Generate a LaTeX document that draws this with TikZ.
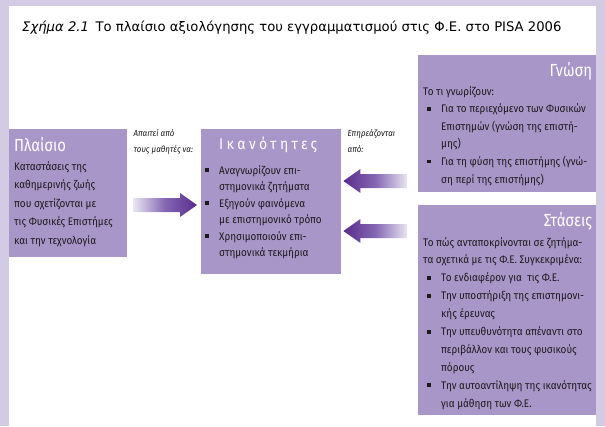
\documentclass[tikz,border=0pt]{standalone}
\usepackage{fontspec}
\setmainfont{Fira Sans}[FakeStretch=0.9]
\newfontfamily\titlefont{DejaVu Sans}
\newfontfamily\headfont{Fira Sans}[FakeStretch=0.85]
\newfontfamily\spacedfont{Fira Sans}[LetterSpace=22,FakeStretch=0.9]
\usetikzlibrary{positioning, calc}

\definecolor{framebg}{HTML}{D3CAE4}
\definecolor{boxfill}{HTML}{A996C9}
\definecolor{arrdark}{HTML}{5A2C8C}
\definecolor{arrmid}{HTML}{8466B3}
\definecolor{arrlight}{HTML}{E9E5F1}
\definecolor{bodytext}{HTML}{1A1A1A}

\newcommand{\bul}{\makebox[14pt][l]{\rule[2pt]{3.8pt}{3.8pt}}}
\newcommand{\ind}{\hspace*{14pt}}

\tikzset{
  panel/.style={fill=boxfill, draw=none, inner sep=0pt, anchor=north west},
  paneltitle/.style={text=white, inner sep=0pt, font=\headfont\fontsize{17.5}{17.5}\selectfont},
  paneltext/.style={text=bodytext, align=left, inner sep=0pt, anchor=north west},
  cue/.style={text=bodytext, align=left, inner sep=0pt, anchor=north west,
    font=\itshape\fontsize{8.8}{16}\selectfont},
}

\begin{document}
\begin{tikzpicture}[x=1pt, y=-1pt]
\useasboundingbox (0,0) rectangle (605,426);
\fill[framebg] (0,0) rectangle (605,426);
\fill[white] (8.5,6) rectangle (596,426);

% caption
\node[anchor=west, inner sep=0pt, font=\titlefont\fontsize{13.2}{13.2}\selectfont] (fig) at (22,28)
  {\textit{Σχήμα 2.1}\enspace Το πλαίσιο αξιολόγησης του εγγραμματισμού στις Φ.Ε. στο PISA 2006};

% panels
\node[panel, minimum width=118pt, minimum height=128pt] (plaisio) at (9,129) {};
\node[panel, minimum width=140pt, minimum height=145pt] (ikan) at (201,129) {};
\node[panel, minimum width=178pt, minimum height=137pt] (gnosi) at (418,55) {};
\node[panel, minimum width=178pt, minimum height=210pt] (staseis) at (418,205) {};

% panel titles
\node[paneltitle, anchor=west] (plaisioT) at ($(plaisio.north west)+(5,16)$) {Πλαίσιο};
\node[paneltitle, font=\spacedfont\fontsize{15.5}{15.5}\selectfont] (ikanT) at ($(ikan.north)+(-3,16)$) {Ικανότητες};
\node[paneltitle, anchor=east] (gnosiT) at ($(gnosi.north east)+(-4,16)$) {Γνώση};
\node[paneltitle, anchor=east] (staseisT) at ($(staseis.north east)+(-4,16)$) {Στάσεις};

% panel texts
\node[paneltext, font=\fontsize{11}{18.5}\selectfont] (plaisioB) at ($(plaisio.north west)+(5,32)$)
  {Καταστάσεις της\\καθημερινής ζωής\\που σχετίζονται με\\τις Φυσικές Επιστήμες\\και την τεχνολογία};
\node[paneltext, font=\fontsize{11}{16.5}\selectfont] (ikanB) at ($(ikan.north west)+(4,36)$)
  {\bul Αναγνωρίζουν επι-\\\ind στημονικά ζητήματα\\\bul Εξηγούν φαινόμενα\\\ind με επιστημονικό τρόπο\\
   \bul Χρησιμοποιούν επι-\\\ind στημονικά τεκμήρια};
\node[paneltext, font=\fontsize{11}{17.6}\selectfont] (gnosiB) at ($(gnosi.north west)+(5,31)$)
  {Το τι γνωρίζουν:\\\hspace*{4pt}\bul Για το περιεχόμενο των Φυσικών\\\hspace*{4pt}\ind Επιστημών (γνώση της επιστή-\\\hspace*{4pt}\ind μης)\\
   \hspace*{4pt}\bul Για τη φύση της επιστήμης (γνώ-\\\hspace*{4pt}\ind ση περί της επιστήμης)};
\node[paneltext, font=\fontsize{11}{17.9}\selectfont] (staseisB) at ($(staseis.north west)+(5,32)$)
  {Το πώς ανταποκρίνονται σε ζητήμα-\\τα σχετικά με τις Φ.Ε. Συγκεκριμένα:\\
   \hspace*{4pt}\bul Το ενδιαφέρον για\ \ τις Φ.Ε.\\\hspace*{4pt}\bul Την υποστήριξη της επιστημονι-\\\hspace*{4pt}\ind κής έρευνας\\
   \hspace*{4pt}\bul Την υπευθυνότητα απέναντι στο\\\hspace*{4pt}\ind περιβάλλον και τους φυσικούς\\\hspace*{4pt}\ind πόρους\\
   \hspace*{4pt}\bul Την αυτοαντίληψη της ικανότητας\\\hspace*{4pt}\ind για μάθηση των Φ.Ε.};

% arrow labels
\node[cue] (cueL) at ($(plaisio.north east)+(6,0)$) {Απαιτεί από\\τους μαθητές να:};
\node[cue] (cueR) at ($(ikan.north east)+(6,0)$) {Επηρεάζονται\\από:};

% arrows
\path (plaisio.north east) ++(6,76) coordinate (a1tail);
\path (ikan.west |- a1tail) ++(-4,0) coordinate (a1tip);
\shade[left color=arrlight, right color=arrdark, middle color=arrmid]
  ($(a1tail)+(0,-7)$) -- ($(a1tip)+(-17,-7)$) -- ($(a1tip)+(-17,-12)$) -- (a1tip)
  -- ($(a1tip)+(-17,12)$) -- ($(a1tip)+(-17,7)$) -- ($(a1tail)+(0,7)$) -- cycle;

\path (ikan.north east) ++(2,52) coordinate (a2tip);
\path (gnosi.west |- a2tip) ++(-11,0) coordinate (a2tail);
\shade[left color=arrdark, right color=arrlight, middle color=arrmid]
  ($(a2tail)+(0,-7)$) -- ($(a2tip)+(17,-7)$) -- ($(a2tip)+(17,-12)$) -- (a2tip)
  -- ($(a2tip)+(17,12)$) -- ($(a2tip)+(17,7)$) -- ($(a2tail)+(0,7)$) -- cycle;

\path (ikan.north east) ++(2,102) coordinate (a3tip);
\path (staseis.west |- a3tip) ++(-11,0) coordinate (a3tail);
\shade[left color=arrdark, right color=arrlight, middle color=arrmid]
  ($(a3tail)+(0,-7)$) -- ($(a3tip)+(17,-7)$) -- ($(a3tip)+(17,-12)$) -- (a3tip)
  -- ($(a3tip)+(17,12)$) -- ($(a3tip)+(17,7)$) -- ($(a3tail)+(0,7)$) -- cycle;
\end{tikzpicture}
\end{document}
